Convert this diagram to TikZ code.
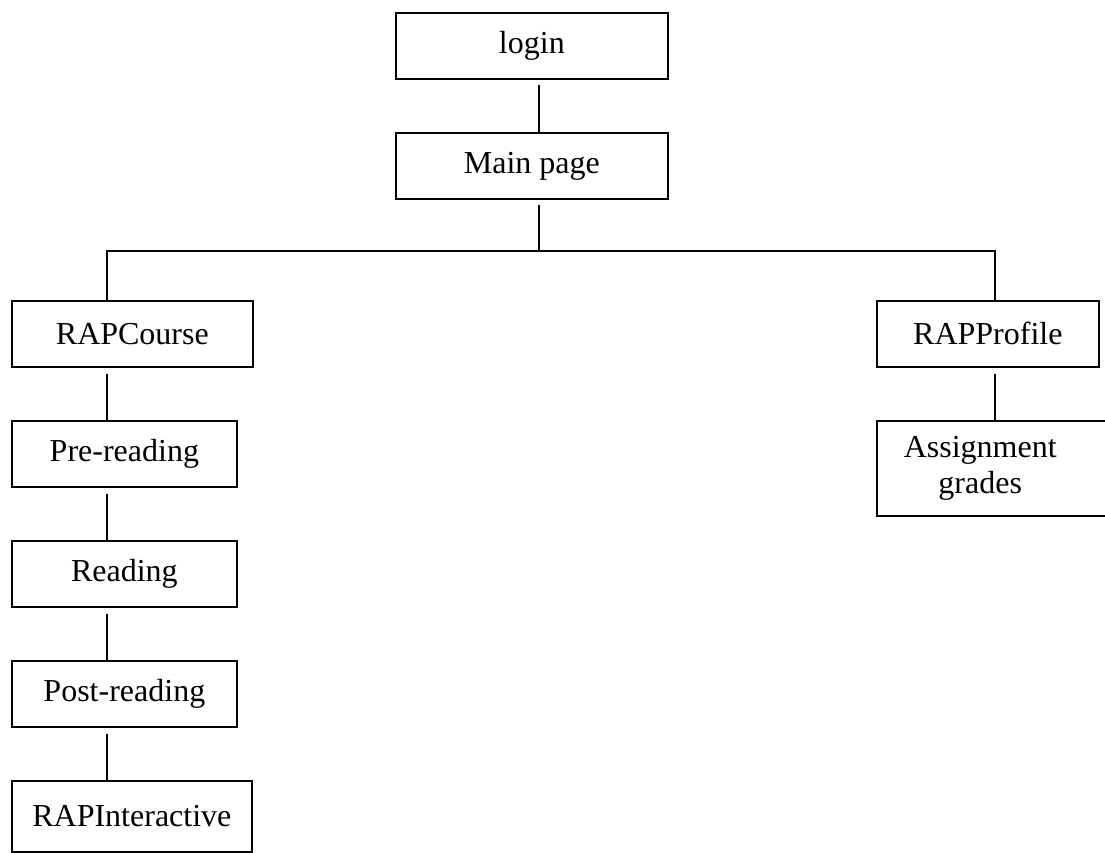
\documentclass[tikz,border=0pt]{standalone}
\usepackage{fontspec}
\setmainfont{Liberation Serif}
\usetikzlibrary{positioning}
\tikzset{
pagebox/.style={
  rectangle,
  draw=black,
  line width=1.3pt,
  anchor=north west,
  inner sep=0pt,
  align=center,
  font=\fontsize{24}{27}\selectfont
  },
link/.style={line width=1.3pt}
}

\begin{document}
\begin{tikzpicture}[x=0.75pt,y=-0.75pt]
\useasboundingbox (0,0) rectangle (1105,852);

% top
\node[pagebox,minimum width=204pt,minimum height=49.5pt] (login) at (395,12) {login};
\node[pagebox,minimum width=204pt,minimum height=49.5pt] (main) at (395,132) {Main page};

% left column
\node[pagebox,minimum width=180.75pt,minimum height=49.5pt] (course) at (11,300) {RAPCourse};
\node[pagebox,minimum width=168.75pt,minimum height=49.5pt] (pre) at (11,420) {Pre-reading};
\node[pagebox,minimum width=168.75pt,minimum height=49.5pt] (reading) at (11,540) {Reading};
\node[pagebox,minimum width=168.75pt,minimum height=49.5pt] (post) at (11,660) {Post-reading};
\node[pagebox,minimum width=180pt,minimum height=53.25pt] (interactive) at (11,780) {RAPInteractive};

% right column
\node[pagebox,minimum width=166.5pt,minimum height=49.5pt] (profile) at (876,300) {RAPProfile};
\node[pagebox,minimum width=176pt,minimum height=71.25pt] (grades) at (876,420)
  {\hspace*{-21pt}Assignment\\\hspace*{-21pt}grades};

\coordinate (trunk) at (539,251);
\coordinate (lcol) at (107,251);
\coordinate (rcol) at (995,251);

\draw[link] (login.south -| trunk) ++(0,5) -- (main.north -| trunk);
\draw[link] (main.south -| trunk) ++(0,5) -- (trunk);
\draw[link] (course.north -| lcol) -- (lcol) -- (rcol) -- (profile.north -| rcol);

\foreach \a/\b in {course/pre,pre/reading,reading/post,post/interactive}
  \draw[link] (\a.south -| lcol) ++(0,6) -- (\b.north -| lcol);
\draw[link] (profile.south -| rcol) ++(0,6) -- (grades.north -| rcol);

\end{tikzpicture}
\end{document}
